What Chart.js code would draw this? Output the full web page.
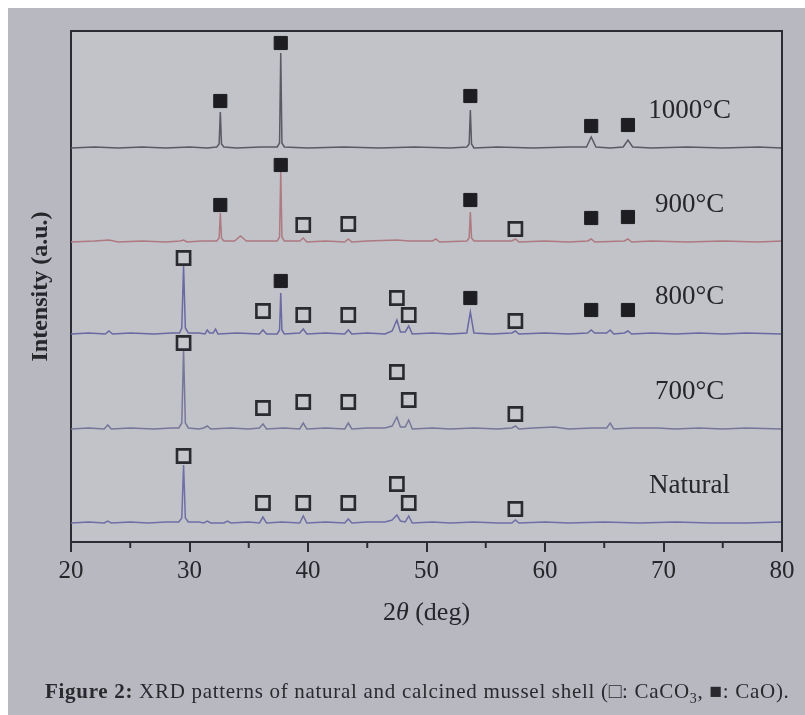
<!DOCTYPE html>
<html><head><meta charset="utf-8">
<script src="https://cdn.jsdelivr.net/npm/chart.js@4.4.1/dist/chart.umd.min.js"></script>
<style>
html,body{margin:0;padding:0;background:#fff;width:805px;height:715px;overflow:hidden}
#photo{position:absolute;left:8px;top:8px;width:797px;height:707px;background:#b8b8c0}
#wrap{position:absolute;left:0;top:0;width:805px;height:715px}
#cap{position:absolute;left:45px;top:679px;font-family:'Liberation Serif',serif;font-size:21px;letter-spacing:0.7px;color:#2a2a2e;white-space:nowrap}
#cap sub{font-size:14px}
</style></head><body>
<div id="photo"></div>
<div id="wrap"><canvas id="c" width="805" height="715"></canvas></div>
<div id="cap"><b>Figure 2:</b> XRD patterns of natural and calcined mussel shell (□: CaCO<sub>3</sub>, ■: CaO).</div>
<script>
// ---- data (2θ in degrees, intensity in arbitrary units above each trace's baseline) ----
const seriesNames = ['Natural', '700°C', '800°C', '900°C', '1000°C'];
const seriesOffsets = [19, 113, 208, 300, 394];
const xTicks = [20, 30, 40, 50, 60, 70, 80];

const natural = [[20,0],[21.5,1],[22.8,0],[23.1,2],[23.4,0],[25,1],[26.5,0],[28,1],[29.1,1],[29.35,5],[29.5,58],[29.65,5],[29.9,1],[30.8,1],[31.2,0],[31.5,2],[31.8,0],[32.9,0],[33.2,2],[33.5,0],[35,1],[35.9,0],[36.2,6],[36.5,0],[37.8,1],[39.3,0],[39.6,7],[39.9,0],[41.5,1],[43.1,0],[43.4,4],[43.7,0],[45,1],[46.5,1],[47.1,3],[47.5,8],[47.8,2],[48.2,1],[48.5,7],[48.8,0],[50.5,1],[52,0],[54,1],[56,0],[57.2,0],[57.5,3],[57.8,0],[60,1],[62,0],[65,1],[68,0],[71,1],[74,0],[77,0],[80,1]];
const t700 = [[20,0],[21.5,1],[22.8,0],[23.1,4],[23.4,0],[25,1],[27,0],[28.5,1],[29.1,1],[29.35,6],[29.5,79],[29.65,6],[29.9,1],[30.8,0],[31.2,1],[31.5,3],[31.8,0],[33.5,1],[35,0],[35.9,1],[36.2,5],[36.5,0],[38,1],[39.3,0],[39.6,6],[39.9,0],[41.5,1],[43.1,0],[43.4,6],[43.7,0],[45,1],[46.5,1],[47.1,3],[47.5,12],[47.8,2],[48.2,2],[48.5,9],[48.8,0],[50.5,1],[52,0],[54,1],[56,0],[57.2,1],[57.5,3],[57.8,0],[59,1],[60.8,2],[62,0],[64,1],[65.2,1],[65.5,6],[65.8,0],[67.5,1],[69.5,1],[71,0],[73,1],[75,0],[77,1],[80,0]];
const t800 = [[20,0],[21.5,1],[22.9,0],[23.2,3],[23.5,0],[25,1],[27,0],[28.5,1],[29.15,1],[29.35,6],[29.5,68],[29.65,6],[29.9,1],[30.8,1],[31.3,0],[31.5,4],[31.7,1],[32.0,1],[32.2,5],[32.4,0],[34,1],[35.9,0],[36.2,4],[36.5,0],[37.4,0],[37.6,4],[37.7,41],[37.8,4],[38.0,0],[39.3,1],[39.6,5],[39.9,0],[41.5,1],[43.1,0],[43.4,4],[43.7,0],[45,1],[46.5,0],[47.1,3],[47.5,14],[47.8,2],[48.2,2],[48.5,8],[48.8,0],[50.5,1],[52,0],[53.4,1],[53.7,22],[54.0,1],[55.5,0],[57.2,1],[57.5,3],[57.8,0],[60,1],[62,0],[63.6,1],[63.9,4],[64.2,1],[65.2,1],[65.5,4],[65.8,0],[66.7,1],[67.0,3],[67.3,0],[69,1],[71,0],[73,1],[75,0],[77,1],[80,0]];
const t900 = [[20,0],[22,1],[23.2,2],[24,0],[26,1],[28,0],[29.2,1],[29.5,2],[29.8,0],[31,1],[32.3,1],[32.5,4],[32.6,29],[32.7,4],[32.9,1],[33.8,1],[34.3,6],[34.8,1],[36,1],[37.4,1],[37.6,5],[37.7,70],[37.8,5],[38.0,1],[39.3,1],[39.6,4],[39.9,0],[41.5,1],[43.1,0],[43.4,3],[43.7,0],[45,1],[47.5,2],[48.5,1],[50.5,1],[50.8,3],[51.1,0],[53.4,1],[53.6,4],[53.7,30],[53.8,4],[54.0,1],[55.5,1],[57.2,1],[57.5,3],[57.8,0],[60,1],[62,0],[63.6,1],[63.9,3],[64.2,0],[66.7,1],[67.0,3],[67.3,0],[69,1],[72,0],[75,1],[78,0],[80,1]];
const t1000 = [[20,0],[22,1],[24,0],[26,1],[28,0],[30,1],[31.5,0],[32.3,1],[32.5,4],[32.6,36],[32.7,4],[32.9,1],[34,0],[36,1],[37.4,1],[37.6,5],[37.7,95],[37.8,5],[38.0,1],[40,0],[43,1],[46,0],[49,1],[52,0],[53.4,1],[53.6,4],[53.7,38],[53.8,4],[54.0,0],[56,1],[59,0],[62,1],[63.5,1],[63.9,11],[64.3,1],[65.5,0],[66.6,1],[67.0,8],[67.4,1],[69,0],[72,1],[75,0],[78,1],[80,0]];
const traces = [natural, t700, t800, t900, t1000];

// phase markers (□ CaCO3, ■ CaO): 2θ positions and marker heights above baseline per trace
const caco3Theta = [29.5, 36.2, 39.6, 43.4, 47.5, 48.5, 57.5];
const caoTheta = [32.6, 37.7, 53.7, 63.9, 67.0];
const caco3Natural = [67, 20, 20, 20, 39, 20, 14];
const caco3T700 = [86, 21, 27, 27, 57, 29, 15];
const caco3T800 = [76, 23, 19, 19, 36, 19, 13];
const caco3T900 = [null, null, 17, 18, null, null, 13];
const caoT800 = [null, 53, 36, 24, 24];
const caoT900 = [37, 77, 42, 24, 25];
const caoT1000 = [47, 105, 52, 22, 23];
const caco3Sets = [caco3Natural, caco3T700, caco3T800, caco3T900, null];
const caoSets = [null, null, caoT800, caoT900, caoT1000];

// ---- styles ----
const traceColors = ['#6f6fa6', '#77779a', '#6a6aa2', '#ad7a80', '#5a5a62'];
const ink = '#26262b';
const frameColor = '#2c2c34';
const serif = "'Liberation Serif', 'Times New Roman', serif";

const datasets = [];
traces.forEach((tr, i) => {
  datasets.push({
    label: seriesNames[i],
    data: tr.map(p => ({x: p[0], y: p[1] + seriesOffsets[i]})),
    showLine: true, borderColor: traceColors[i], borderWidth: 1.5,
    pointRadius: 0, tension: 0, order: 2
  });
});
function markerData(thetas, vals, off) {
  const out = [];
  thetas.forEach((t, k) => { if (vals[k] != null) out.push({x: t, y: vals[k] + off}); });
  return out;
}
caco3Sets.forEach((v, i) => {
  if (!v) return;
  datasets.push({
    label: 'CaCO3 ' + seriesNames[i], data: markerData(caco3Theta, v, seriesOffsets[i]),
    showLine: false, pointStyle: 'rect', pointRadius: 9.3, pointBorderWidth: 2.6,
    pointBackgroundColor: '#c6c6cd', pointBorderColor: '#2a2a30', order: 1
  });
});
caoSets.forEach((v, i) => {
  if (!v) return;
  datasets.push({
    label: 'CaO ' + seriesNames[i], data: markerData(caoTheta, v, seriesOffsets[i]),
    showLine: false, pointStyle: 'rect', pointRadius: 9.3, pointBorderWidth: 1,
    pointBackgroundColor: '#1e1e22', pointBorderColor: '#1e1e22', order: 1
  });
});

const decor = {
  id: 'decor',
  beforeDraw(chart) {
    const {ctx, chartArea: a} = chart;
    ctx.save();
    ctx.fillStyle = '#c2c2c9';
    ctx.fillRect(a.left, a.top, a.right - a.left, a.bottom - a.top);
    ctx.restore();
  },
  afterDraw(chart) {
    const {ctx, chartArea: a, scales: {x, y}} = chart;
    ctx.save();
    // frame top & right
    ctx.strokeStyle = frameColor; ctx.lineWidth = 2;
    ctx.beginPath();
    ctx.moveTo(a.left, a.top); ctx.lineTo(a.right, a.top); ctx.lineTo(a.right, a.bottom);
    ctx.stroke();
    // minor ticks
    ctx.lineWidth = 2;
    for (let v = 25; v < 80; v += 10) {
      const px = x.getPixelForValue(v);
      ctx.beginPath(); ctx.moveTo(px, a.bottom); ctx.lineTo(px, a.bottom + 6); ctx.stroke();
    }
    // series labels
    ctx.fillStyle = ink;
    ctx.font = '27px ' + serif;
    ctx.textAlign = 'center'; ctx.textBaseline = 'middle';
    seriesNames.forEach((n, i) => {
      ctx.fillText(n, x.getPixelForValue(72.2), y.getPixelForValue(seriesOffsets[i] + 37));
    });
    // x-axis title "2θ (deg)" with italic θ
    const parts = [['2', ''], ['θ', 'italic '], [' (deg)', '']];
    let total = 0;
    parts.forEach(p => { ctx.font = p[1] + '26px ' + serif; total += ctx.measureText(p[0]).width; });
    let cx = (a.left + a.right) / 2 - total / 2;
    ctx.textAlign = 'left';
    parts.forEach(p => {
      ctx.font = p[1] + '26px ' + serif;
      ctx.fillText(p[0], cx, 613);
      cx += ctx.measureText(p[0]).width;
    });
    ctx.restore();
  }
};

new Chart(document.getElementById('c'), {
  type: 'scatter',
  data: {datasets},
  options: {
    responsive: false, animation: false, devicePixelRatio: 1,
    layout: {padding: {left: 8, right: 23, top: 31, bottom: 103}},
    plugins: {legend: {display: false}, tooltip: {enabled: false}},
    scales: {
      x: {
        type: 'linear', min: xTicks[0], max: xTicks[xTicks.length - 1],
        afterBuildTicks: s => { s.ticks = xTicks.map(v => ({value: v})); },
        ticks: {font: {family: serif, size: 25}, color: ink, padding: 4, maxRotation: 0, autoSkip: false},
        grid: {display: true, drawOnChartArea: false, drawTicks: true, tickLength: 10, color: frameColor, lineWidth: 2},
        border: {display: true, color: frameColor, width: 2},
        afterFit: s => { s.height = 70; }
      },
      y: {
        type: 'linear', min: 0, max: 511,
        ticks: {display: false},
        grid: {display: false, drawTicks: false},
        border: {display: true, color: frameColor, width: 2},
        title: {display: true, text: 'Intensity (a.u.)', color: ink, font: {family: serif, size: 24, weight: 'bold'}, padding: {top: 18, bottom: 0}},
        afterFit: s => { s.width = 63; }
      }
    }
  },
  plugins: [decor]
});
</script>
</body></html>
